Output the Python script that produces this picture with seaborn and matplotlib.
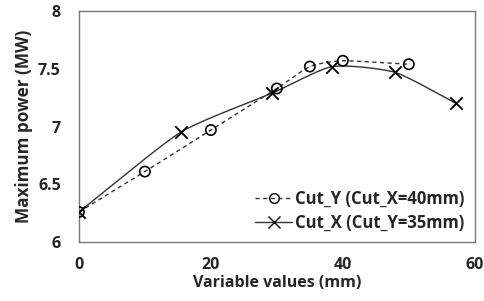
import numpy as np
import matplotlib
matplotlib.use("Agg")
import matplotlib.pyplot as plt
import seaborn as sns
from matplotlib.lines import Line2D

# Cut_Y series (Cut_X = 40mm)
cuty_x = [0, 10, 20, 30, 35, 40, 50]
cuty_p = [6.26, 6.61, 6.97, 7.33, 7.52, 7.57, 7.54]

# Cut_X series (Cut_Y = 35mm)
cutx_x = [0, 15.4, 29.3, 38.4, 47.9, 57.2]
cutx_p = [6.26, 6.95, 7.29, 7.52, 7.47, 7.20]

xticks = [0, 20, 40, 60]
yticks = [6, 6.5, 7, 7.5, 8]


def smooth(x, y, n=30):
    # excel-like smoothed line (catmull-rom through the points)
    x = np.asarray(x, float)
    y = np.asarray(y, float)
    px = np.concatenate([[2 * x[0] - x[1]], x, [2 * x[-1] - x[-2]]])
    py = np.concatenate([[2 * y[0] - y[1]], y, [2 * y[-1] - y[-2]]])
    ox, oy = [], []
    t = np.linspace(0, 1, n)
    for i in range(1, len(px) - 2):
        for arr, out in ((px, ox), (py, oy)):
            p0, p1, p2, p3 = arr[i - 1], arr[i], arr[i + 1], arr[i + 2]
            m1 = (p2 - p0) / 2 * 0.6
            m2 = (p3 - p1) / 2 * 0.6
            h00 = 2 * t**3 - 3 * t**2 + 1
            h10 = t**3 - 2 * t**2 + t
            h01 = -2 * t**3 + 3 * t**2
            h11 = t**3 - t**2
            out.extend(h00 * p1 + h10 * m1 + h01 * p2 + h11 * m2)
    return ox, oy


sns.set_style("white")
plt.rcParams['font.family'] = ['Open Sans', 'DejaVu Sans']
plt.rcParams['font.weight'] = 'bold'

fig = plt.figure(figsize=(4.84, 3.01), dpi=100)
ax = fig.add_axes([0.163, 0.196, 0.818, 0.767])

sx, sy = smooth(cuty_x, cuty_p)
sns.lineplot(x=sx, y=sy, sort=False, ax=ax, color="#333333", lw=1, linestyle=(0, (3, 2.5)))
sns.scatterplot(x=cuty_x, y=cuty_p, ax=ax, marker="o", s=55, facecolor="none",
                edgecolor="black", linewidth=1.2, zorder=3)

sx, sy = smooth(cutx_x, cutx_p)
sns.lineplot(x=sx, y=sy, sort=False, ax=ax, color="#333333", lw=1)
sns.scatterplot(x=cutx_x, y=cutx_p, ax=ax, marker="x", s=80, color="black",
                linewidth=1.3, zorder=3)

ax.set_xlim(0, 60)
ax.set_ylim(6, 8)
ax.set_xticks(xticks)
ax.set_yticks(yticks)
ax.set_yticklabels(["6", "6.5", "7", "7.5", "8"], fontweight="bold")
ax.set_xticklabels(["0", "20", "40", "60"], fontweight="bold")
ax.tick_params(axis="both", direction="out", length=5, width=1, color="#555555",
               labelsize=11.5, pad=3)
ax.tick_params(axis="x", pad=6)
ax.tick_params(axis="y", pad=8)
for s in ax.spines.values():
    s.set_color("#777777")
    s.set_linewidth(1)
ax.set_xlabel("Variable values (mm)", fontsize=11.5, fontweight="bold", labelpad=1)
ax.set_ylabel("Maximum power (MW)", fontsize=12.3, fontweight="bold", labelpad=4)

handles = [
    Line2D([], [], color="#333333", lw=1, linestyle=(0, (3, 2.5)), marker="o",
           markerfacecolor="none", markeredgecolor="black", markersize=7),
    Line2D([], [], color="#333333", lw=1, marker="x", markeredgecolor="black",
           markersize=8),
]
ax.legend(handles, ["Cut_Y (Cut_X=40mm)", "Cut_X (Cut_Y=35mm)"], loc="lower right",
          frameon=False, handlelength=2.2, handletextpad=0.2,
          labelspacing=0.4, borderaxespad=0.2, prop={"weight": "bold", "size": 12})

fig.savefig("out.png", dpi=100)
